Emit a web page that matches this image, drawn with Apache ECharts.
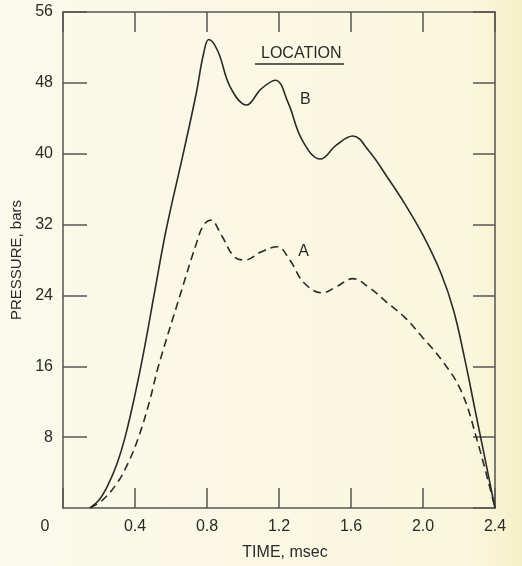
<!DOCTYPE html>
<html>
<head>
<meta charset="utf-8">
<script src="https://cdn.jsdelivr.net/npm/echarts@6/dist/echarts.min.js"></script>
<style>
  html, body { margin: 0; padding: 0; }
  #chart { width: 522px; height: 566px; }
</style>
</head>
<body>
<div id="chart"></div>
<script>
// time in msec, pressure in bars
var timeTicks = [0, 0.4, 0.8, 1.2, 1.6, 2.0, 2.4];
var pressureTicks = [0, 8, 16, 24, 32, 40, 48, 56];

var locationB = [
  [0.15, 0], [0.20, 0.9], [0.25, 2.6], [0.30, 5], [0.345, 8], [0.40, 12.8],
  [0.45, 17.8], [0.51, 24.5], [0.574, 31.5], [0.67, 40.2], [0.74, 46.8],
  [0.78, 51.2], [0.81, 52.9], [0.86, 51.6], [0.93, 47.5], [1.02, 45.5],
  [1.10, 47.3], [1.18, 48.3], [1.25, 45.8], [1.33, 41.5], [1.43, 39.4],
  [1.52, 41], [1.61, 42], [1.70, 40.3], [1.80, 37.4],
  [1.90, 34.3], [2.00, 30.8], [2.10, 26.5], [2.17, 22.3], [2.23, 17],
  [2.29, 11], [2.35, 5], [2.40, 0]
];
var locationA = [
  [0.15, 0], [0.22, 0.9], [0.30, 2.8], [0.36, 5], [0.42, 8], [0.48, 12],
  [0.53, 16], [0.65, 24], [0.74, 29.8], [0.78, 31.9], [0.82, 32.5],
  [0.88, 30.8], [0.95, 28.4], [1.01, 28], [1.10, 28.9], [1.19, 29.5],
  [1.26, 28], [1.34, 25.4], [1.44, 24.3], [1.52, 25], [1.61, 25.9],
  [1.70, 24.9], [1.80, 23.2], [1.90, 21.5], [2.00, 19.2], [2.10, 16.8],
  [2.21, 13.3], [2.30, 7.7], [2.40, 0]
];
var labelB = [1.347, 46.1];
var labelA = [1.336, 28.9];

var font = 'Liberation Sans';
var ink = '#2a2a2a';
var axisInk = '#555';

var chart = echarts.init(document.getElementById('chart'));

function tickStyle(len) {
  return { inside: true, length: len, lineStyle: { color: axisInk, width: 1.5 } };
}

var xBase = {
  type: 'value',
  min: timeTicks[0],
  max: timeTicks[timeTicks.length - 1],
  interval: 0.4,
  splitLine: { show: false },
  axisLine: { onZero: false, lineStyle: { color: axisInk, width: 1.5 } },
  axisTick: tickStyle(20)
};
var yBase = {
  type: 'value',
  min: pressureTicks[0],
  max: pressureTicks[pressureTicks.length - 1],
  interval: 8,
  splitLine: { show: false },
  axisLine: { onZero: false, lineStyle: { color: axisInk, width: 1.5 } },
  axisTick: tickStyle(24)
};

chart.setOption({
  animation: false,
  backgroundColor: new echarts.graphic.LinearGradient(0, 0, 1, 0, [
    { offset: 0, color: '#fbf9ea' },
    { offset: 0.9, color: '#faf7de' },
    { offset: 1, color: '#f6f0c8' }
  ]),
  textStyle: { fontFamily: font },
  grid: { left: 63, top: 12, right: 27, bottom: 58 },
  xAxis: [
    Object.assign({}, xBase, {
      position: 'bottom',
      name: 'TIME, msec',
      nameLocation: 'middle',
      nameGap: 37,
      nameTextStyle: { color: ink, fontSize: 16, fontFamily: font, padding: [0, 0, 0, 12] },
      axisLabel: {
        color: ink, fontSize: 16, margin: 11,
        formatter: function (v) { return v === 0 ? '{z|0}' : v.toFixed(1); },
        rich: { z: { color: ink, fontSize: 16, padding: [0, 36, 0, 0] } }
      }
    }),
    Object.assign({}, xBase, {
      position: 'top',
      axisLabel: { show: false }
    })
  ],
  yAxis: [
    Object.assign({}, yBase, {
      position: 'left',
      name: 'PRESSURE, bars',
      nameLocation: 'middle',
      nameRotate: 90,
      nameGap: 38,
      nameTextStyle: { color: ink, fontSize: 15, fontFamily: font },
      axisLabel: { color: ink, fontSize: 16, margin: 10, showMinLabel: false }
    }),
    Object.assign({}, yBase, {
      position: 'right',
      axisTick: tickStyle(22),
      axisLabel: { show: false }
    })
  ],
  graphic: [
    {
      type: 'text', left: 261, top: 46,
      style: { text: 'LOCATION', fill: ink, font: '16px "Liberation Sans"' }
    },
    {
      type: 'line',
      shape: { x1: 255, y1: 64, x2: 344, y2: 64 },
      style: { stroke: ink, lineWidth: 1.5 }
    }
  ],
  series: [
    {
      name: 'B', type: 'line', data: locationB,
      smooth: 0.4, showSymbol: false,
      lineStyle: { color: ink, width: 1.6 },
      markPoint: {
        symbolSize: 0,
        label: { show: true, formatter: 'B', color: ink, fontSize: 16, fontFamily: font },
        data: [{ coord: labelB }]
      }
    },
    {
      name: 'A', type: 'line', data: locationA,
      smooth: 0.4, showSymbol: false,
      lineStyle: { color: ink, width: 1.6, type: [8, 5] },
      markPoint: {
        symbolSize: 0,
        label: { show: true, formatter: 'A', color: ink, fontSize: 16, fontFamily: font },
        data: [{ coord: labelA }]
      }
    }
  ]
});
</script>
</body>
</html>
